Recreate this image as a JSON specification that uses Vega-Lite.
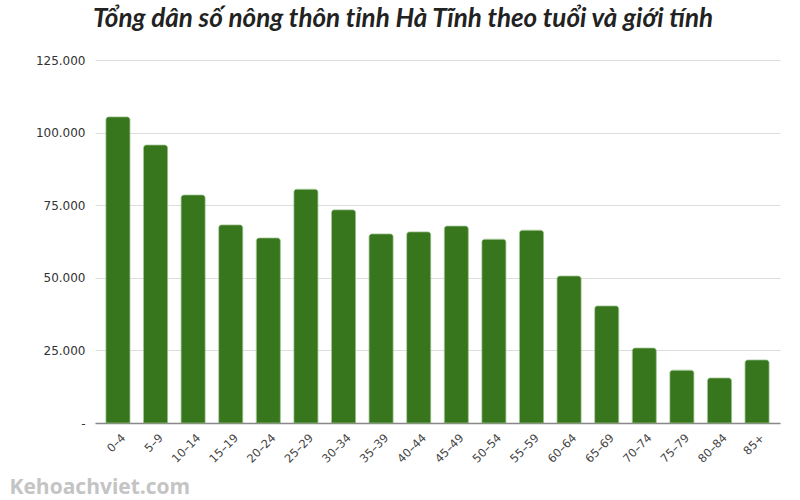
{
  "$schema": "https://vega.github.io/schema/vega-lite/v6.json",
  "width": 685,
  "height": 363,
  "autosize": {"type": "none"},
  "padding": {"left": 95, "top": 60, "right": 20, "bottom": 77},
  "background": "white",
  "title": {
    "text": "Tổng dân số nông thôn tỉnh Hà Tĩnh theo tuổi và giới tính",
    "font": "Lato",
    "fontSize": 26,
    "fontWeight": "bold",
    "fontStyle": "italic",
    "color": "#222222",
    "anchor": "start",
    "frame": "group",
    "dx": -2,
    "offset": 22
  },
  "config": {
    "view": {"stroke": null},
    "axis": {"labelFont": "DejaVu Sans", "labelColor": "#333333"}
  },
  "data": {
    "values": [
      {"age": "0–4", "pop": 105400},
      {"age": "5–9", "pop": 95700},
      {"age": "10–14", "pop": 78500},
      {"age": "15–19", "pop": 68200},
      {"age": "20–24", "pop": 63700},
      {"age": "25–29", "pop": 80500},
      {"age": "30–34", "pop": 73400},
      {"age": "35–39", "pop": 65100},
      {"age": "40–44", "pop": 65800},
      {"age": "45–49", "pop": 67800},
      {"age": "50–54", "pop": 63300},
      {"age": "55–59", "pop": 66400},
      {"age": "60–64", "pop": 50600},
      {"age": "65–69", "pop": 40300},
      {"age": "70–74", "pop": 25800},
      {"age": "75–79", "pop": 18200},
      {"age": "80–84", "pop": 15500},
      {"age": "85+", "pop": 21700}
    ]
  },
  "mark": {
    "type": "bar",
    "color": "#38761d",
    "cornerRadiusTopLeft": 3,
    "cornerRadiusTopRight": 3,
    "stroke": "#7fae6c",
    "strokeWidth": 0.6
  },
  "encoding": {
    "x": {
      "field": "age",
      "type": "ordinal",
      "sort": null,
      "scale": {"paddingInner": 0.36, "paddingOuter": 0.29},
      "axis": {
        "title": "Kehoachviet.com",
        "titleFont": "Open Sans",
        "titleFontSize": 21,
        "titleFontWeight": "bold",
        "titleColor": "#c4c4c4",
        "titleAnchor": "start",
        "titleAlign": "left",
        "titleBaseline": "alphabetic",
        "titleX": -86,
        "titleY": 70,
        "labelAngle": -45,
        "labelAlign": "right",
        "labelBaseline": "middle",
        "labelFontSize": 11.5,
        "labelColor": "#444444",
        "labelPadding": 13,
        "labelOffset": 6,
        "ticks": false,
        "domainColor": "#888888",
        "domainWidth": 1.5
      }
    },
    "y": {
      "field": "pop",
      "type": "quantitative",
      "scale": {"domain": [0, 125000], "nice": false},
      "axis": {
        "title": null,
        "values": [0, 25000, 50000, 75000, 100000, 125000],
        "labelExpr": "datum.value == 0 ? '-' : replace(format(datum.value, ','), ',', '.')",
        "labelFontSize": 12,
        "labelPadding": 10,
        "ticks": false,
        "domain": false,
        "gridColor": "#dddddd",
        "gridWidth": 1
      }
    }
  }
}
